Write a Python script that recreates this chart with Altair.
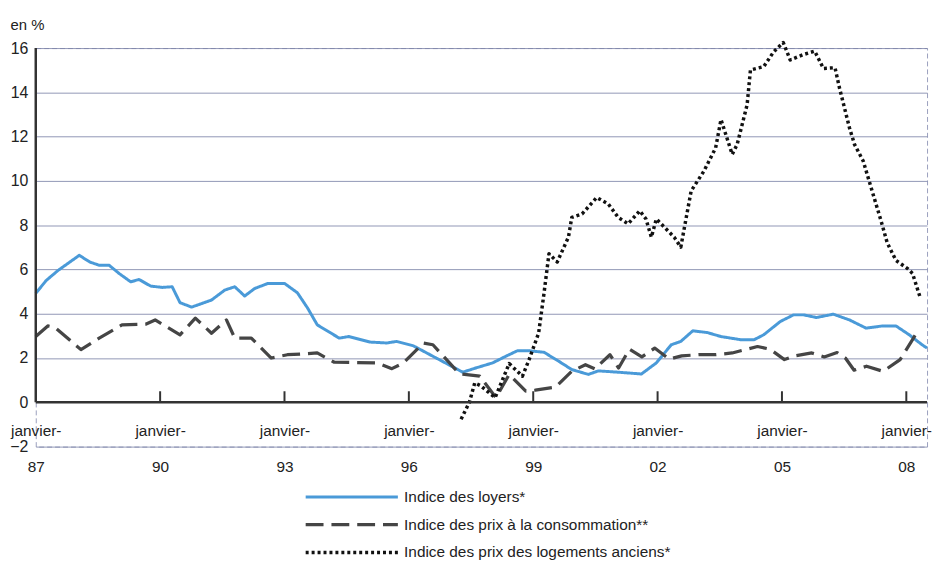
import altair as alt
import pandas as pd

FONT = "Liberation Sans, Arial, sans-serif"

series_names = [
    "Indice des loyers*",
    "Indice des prix à la consommation**",
    "Indice des prix des logements anciens*",
]
series_colors = ["#4a9ad8", "#454545", "#111111"]
series_dashes = [[1, 0], [18, 8], [3, 3]]
series_widths = [3, 3.5, 3]

loyers_annee = [1987.0, 1987.25, 1987.54, 1988.05, 1988.30, 1988.53, 1988.77, 1989.01, 1989.29,
                1989.49, 1989.77, 1990.05, 1990.29, 1990.48, 1990.76, 1991.24, 1991.56, 1991.80,
                1992.04, 1992.28, 1992.60, 1993.00, 1993.31, 1993.56, 1993.79, 1994.32, 1994.55,
                1995.07, 1995.47, 1995.70, 1996.11, 1996.66, 1997.30, 1997.63, 1998.02, 1998.34,
                1998.62, 1998.90, 1999.26, 1999.62, 1999.93, 2000.33, 2000.57, 2001.05, 2001.61,
                2001.97, 2002.33, 2002.56, 2002.85, 2003.20, 2003.53, 2004.00, 2004.33, 2004.56,
                2004.96, 2005.28, 2005.52, 2005.83, 2006.24, 2006.63, 2007.03, 2007.43, 2007.75,
                2008.07, 2008.38, 2008.50]
loyers_val = [4.92, 5.50, 5.96, 6.64, 6.34, 6.19, 6.19, 5.82, 5.44,
              5.55, 5.25, 5.19, 5.22, 4.50, 4.30, 4.62, 5.07, 5.22,
              4.80, 5.14, 5.37, 5.37, 4.95, 4.25, 3.50, 2.90, 2.97,
              2.72, 2.68, 2.75, 2.55, 2.00, 1.36, 1.56, 1.78, 2.08,
              2.33, 2.33, 2.26, 1.85, 1.48, 1.26, 1.42, 1.36, 1.28,
              1.78, 2.60, 2.75, 3.23, 3.15, 2.97, 2.83, 2.83, 3.05,
              3.65, 3.95, 3.95, 3.83, 3.98, 3.72, 3.35, 3.45, 3.45,
              3.05, 2.60, 2.45]

conso_annee = [1987.0, 1987.29, 1987.46, 1988.09, 1988.53, 1989.08, 1989.65, 1989.88, 1990.48,
               1990.85, 1991.24, 1991.60, 1991.80, 1992.20, 1992.68, 1993.07, 1993.56, 1993.79,
               1994.20, 1995.23, 1995.59, 1995.87, 1996.35, 1996.58, 1997.22, 1997.71, 1998.10,
               1998.42, 1998.82, 1999.05, 1999.54, 1999.93, 2000.26, 2000.49, 2000.85, 2001.06,
               2001.32, 2001.62, 2001.93, 2002.28, 2002.58, 2002.99, 2003.39, 2003.80, 2004.41,
               2004.71, 2005.06, 2005.32, 2005.72, 2006.02, 2006.33, 2006.53, 2006.74, 2007.04,
               2007.44, 2007.85, 2008.15, 2008.30]
conso_val = [2.97, 3.45, 3.39, 2.38, 2.90, 3.50, 3.53, 3.72, 3.05,
             3.80, 3.12, 3.72, 2.90, 2.90, 2.00, 2.15, 2.20, 2.23,
             1.81, 1.78, 1.52, 1.78, 2.68, 2.60, 1.29, 1.18, 0.21,
             1.26, 0.51, 0.55, 0.69, 1.40, 1.70, 1.51, 2.15, 1.55,
             2.40, 2.05, 2.45, 1.95, 2.10, 2.15, 2.15, 2.23, 2.52,
             2.40, 1.93, 2.10, 2.23, 2.05, 2.25, 2.00, 1.45, 1.63,
             1.40, 1.93, 2.83, 3.30]

anciens_annee = [1997.26, 1997.46, 1997.59, 1997.73, 1998.08, 1998.42, 1998.74, 1998.90, 1999.13,
                 1999.26, 1999.38, 1999.58, 1999.85, 1999.93, 2000.18, 2000.53, 2000.81, 2001.05,
                 2001.29, 2001.57, 2001.72, 2001.85, 2001.97, 2002.40, 2002.56, 2002.81, 2003.12,
                 2003.40, 2003.53, 2003.80, 2003.92, 2004.16, 2004.24, 2004.56, 2004.80, 2005.03,
                 2005.20, 2005.52, 2005.79, 2006.00, 2006.28, 2006.39, 2006.63, 2006.75, 2006.96,
                 2007.15, 2007.39, 2007.54, 2007.75, 2008.03, 2008.15, 2008.34]
anciens_val = [-0.76, 0.00, 0.88, 0.75, 0.21, 1.75, 1.18, 1.93, 3.12,
               4.92, 6.71, 6.34, 7.46, 8.35, 8.51, 9.25, 8.96, 8.35,
               8.06, 8.65, 8.28, 7.46, 8.28, 7.46, 7.01, 9.55, 10.45,
               11.49, 12.77, 11.20, 11.65, 13.44, 15.01, 15.16, 15.83, 16.25,
               15.46, 15.71, 15.86, 15.08, 15.11, 14.18, 12.39, 11.65, 10.90,
               9.70, 8.20, 7.20, 6.41, 6.04, 5.82, 4.70]

tick_years = [1987, 1990, 1993, 1996, 1999, 2002, 2005, 2008]
y_ticks = [-2, 0, 2, 4, 6, 8, 10, 12, 14, 16]

rows = []
for name, xs, ys in zip(series_names,
                        [loyers_annee, conso_annee, anciens_annee],
                        [loyers_val, conso_val, anciens_val]):
    for i, (a, v) in enumerate(zip(xs, ys)):
        rows.append({"serie": name, "annee": a, "valeur": v, "ordre": i})
df = pd.DataFrame(rows)

x_scale = alt.Scale(domain=[1987, 2008.5], nice=False, zero=False)
y_scale = alt.Scale(domain=[-2, 16], nice=False, zero=False)

legend = alt.Legend(
    title=None, orient="none", legendX=311, legendY=445, direction="vertical", padding=0,
    symbolType="M-9.3,0H9.3", symbolSize=100, symbolStrokeWidth=3,
    labelFont=FONT, labelFontSize=15.5, labelColor="#222222", labelOffset=45,
    rowPadding=11, labelLimit=400,
)

lines = alt.Chart(df).mark_line(strokeJoin="round").encode(
    x=alt.X("annee:Q", scale=x_scale, title=None,
            axis=alt.Axis(values=tick_years, domain=False, ticks=False, grid=False,
                          labelExpr="['janvier-', substring(toString(datum.value), 2, 4)]",
                          labelFont=FONT, labelFontSize=15.5, labelColor="#222222",
                          labelLineHeight=36, labelBaseline="middle", labelPadding=-16,
                          labelAngle=0, labelFlush=False, labelOverlap=False)),
    y=alt.Y("valeur:Q", scale=y_scale,
            axis=alt.Axis(values=y_ticks, domain=False, ticks=False, grid=True,
                          gridColor="#7d84a8", gridWidth=1, gridOpacity=0.85,
                          labelFont=FONT, labelFontSize=16, labelColor="#222222",
                          labelPadding=8, title="en %", titleAngle=0, titleX=-26, titleY=-24,
                          titleAlign="left", titleBaseline="middle", titleFont=FONT,
                          titleFontSize=15, titleFontWeight="normal", titleColor="#222222")),
    color=alt.Color("serie:N", scale=alt.Scale(domain=series_names, range=series_colors),
                    legend=legend),
    strokeDash=alt.StrokeDash("serie:N", scale=alt.Scale(domain=series_names, range=series_dashes),
                              legend=legend),
    strokeWidth=alt.StrokeWidth("serie:N", scale=alt.Scale(domain=series_names, range=series_widths),
                                legend=None),
    order="ordre:Q",
)

zero_df = pd.DataFrame({"valeur": [0]})
zero_line = alt.Chart(zero_df).mark_rule(color="#333333", strokeWidth=2.5).encode(
    y=alt.Y("valeur:Q", scale=y_scale)
)

tick_df = pd.DataFrame({"annee": tick_years[1:]})
janv_ticks = alt.Chart(tick_df).mark_rule(color="#333333", strokeWidth=2).encode(
    x=alt.X("annee:Q", scale=x_scale),
    y=alt.datum(0),
    y2=alt.datum(0.5),
)

yaxis_df = pd.DataFrame({"annee": [tick_years[0]]})
y_axis_line = alt.Chart(yaxis_df).mark_rule(color="#333333", strokeWidth=2.5).encode(
    x=alt.X("annee:Q", scale=x_scale),
    y=alt.datum(0),
    y2=alt.datum(16),
)

chart = alt.layer(lines, zero_line, janv_ticks, y_axis_line).properties(
    width=899, height=402,
    autosize=alt.AutoSizeParams(type="none"),
    padding={"left": 28, "top": 38, "right": 5, "bottom": 115},
    background="white",
).configure_view(
    stroke="#9a9fbd", strokeWidth=1, strokeDash=[5, 3]
)

chart.save("out.html", embed_options={"renderer": "svg", "actions": False})
